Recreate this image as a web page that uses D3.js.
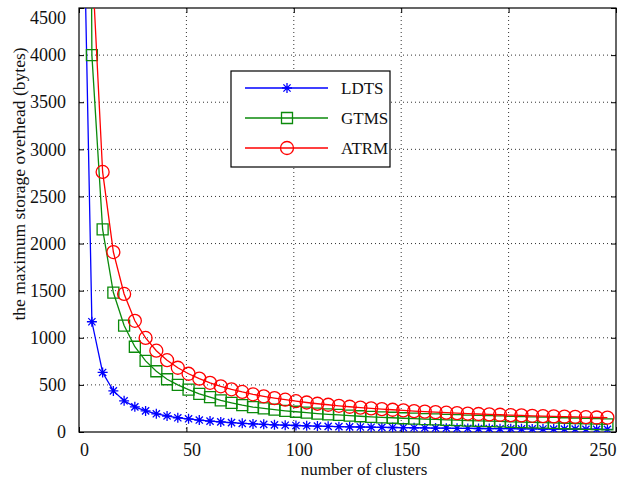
<!DOCTYPE html>
<html>
<head>
<meta charset="utf-8">
<script src="https://cdn.jsdelivr.net/npm/d3@7"></script>
<style>
  body { margin: 0; background: #fff; }
  svg text { font-family: "Liberation Serif", "Times New Roman", "DejaVu Serif", serif !important; }
  .grid line { stroke: #333; stroke-dasharray: 1,3; stroke-width: 1; }
</style>
</head>
<body>
<script>
const clusters = [1, 6, 11, 16, 21, 26, 31, 36, 41, 46, 51, 56, 61, 66, 71, 76, 81, 86, 91, 96,
    101, 106, 111, 116, 121, 126, 131, 136, 141, 146, 151, 156, 161, 166, 171, 176, 181, 186, 191, 196,
    201, 206, 211, 216, 221, 226, 231, 236, 241, 246];

const ldts = [6950, 1170, 632, 436, 331, 267, 224, 193, 170, 151, 140, 127, 116, 107, 99, 92, 86, 81, 76, 72,
    69, 66, 63, 60, 57, 55, 53, 51, 49, 48, 46, 45, 43, 42, 41, 39, 38, 37, 36, 35,
    35, 34, 33, 32, 31, 31, 30, 29, 29, 28];

const gtms = [24000, 4000, 2150, 1480, 1130, 905, 755, 645, 560, 500, 450, 405, 370, 335, 310, 285, 265, 250, 237, 225,
    215, 205, 196, 188, 181, 174, 167, 161, 156, 151, 146, 141, 137, 133, 129, 125, 121, 118, 115, 112,
    108, 105, 102, 99, 96, 93, 90, 87, 84, 81];

const atrm = [30000, 5030, 2760, 1910, 1465, 1180, 998, 863, 762, 682, 618, 566, 522, 485, 453, 425, 400, 379, 360, 343,
    327, 313, 300, 289, 278, 268, 259, 251, 243, 236, 229, 222, 216, 211, 205, 200, 196, 191, 187, 183,
    179, 176, 172, 169, 166, 163, 160, 157, 154, 152];

const xTicks = [0, 50, 100, 150, 200, 250];
const yTicks = [0, 500, 1000, 1500, 2000, 2500, 3000, 3500, 4000, 4500];

const series = [
    {name: 'LDTS', values: ldts, color: '#0000ff', marker: 'star'},
    {name: 'GTMS', values: gtms, color: '#0b8a0b', marker: 'square'},
    {name: 'ATRM', values: atrm, color: '#ff0000', marker: 'circle'}
];

const W = 619, H = 479;
const margin = {top: 8, right: 3, bottom: 47, left: 79};
const width = W - margin.left - margin.right,
    height = H - margin.top - margin.bottom;

const svg = d3.select('body').append('svg')
    .attr('width', W)
    .attr('height', H);

const g = svg.append('g')
    .attr('transform', `translate(${margin.left}, ${margin.top})`);

const x = d3.scaleLinear().domain([0, 250]).range([0, width]);
const y = d3.scaleLinear().domain([0, 4500]).range([height, 0]);

g.append('clipPath').attr('id', 'plot')
    .append('rect').attr('width', width).attr('height', height);

// dotted grid
g.append('g').attr('class', 'grid')
    .selectAll('line')
    .data(xTicks.slice(1, -1))
    .enter().append('line')
    .attr('x1', d => x(d)).attr('x2', d => x(d))
    .attr('y1', 0).attr('y2', height);

g.append('g').attr('class', 'grid')
    .selectAll('line')
    .data(yTicks.slice(1, -1))
    .enter().append('line')
    .attr('y1', d => y(d)).attr('y2', d => y(d))
    .attr('x1', 0).attr('x2', width);

// axes, ticks pointing inward on all four sides
const fmt = d3.format('d');
const xAxis = g.append('g')
    .attr('transform', `translate(0, ${height})`)
    .call(d3.axisBottom(x).tickValues(xTicks).tickSizeInner(-5).tickSizeOuter(0).tickPadding(11).tickFormat(fmt));
const yAxis = g.append('g')
    .call(d3.axisLeft(y).tickValues(yTicks).tickSizeInner(-5).tickSizeOuter(0).tickPadding(13).tickFormat(fmt));
g.append('g')
    .call(d3.axisTop(x).tickValues(xTicks).tickSizeInner(-5).tickSizeOuter(0).tickFormat(''));
g.append('g')
    .attr('transform', `translate(${width}, 0)`)
    .call(d3.axisRight(y).tickValues(yTicks).tickSizeInner(-5).tickSizeOuter(0).tickFormat(''));

g.selectAll('.domain').remove();
g.selectAll('.tick line').attr('stroke', '#000');

xAxis.selectAll('text')
    .attr('font-size', 18).attr('fill', '#111')
    .attr('dx', 5);
xAxis.selectAll('.tick:last-of-type text')
    .attr('text-anchor', 'end').attr('dx', 0);
yAxis.selectAll('text')
    .attr('font-size', 18).attr('fill', '#111');
// top label sits a little below its tick, as in the original figure
yAxis.selectAll('.tick:last-of-type text')
    .attr('dy', '0.85em');

g.append('rect')
    .attr('width', width).attr('height', height)
    .attr('fill', 'none').attr('stroke', '#000').attr('stroke-width', 1.2);

// series
const line = d3.line()
    .x((d, i) => x(clusters[i]))
    .y(d => y(d));

const symbolFor = {
    star: d3.symbol().type({draw(ctx, s) {
        const r = 5;
        ctx.moveTo(-r, 0); ctx.lineTo(r, 0);
        ctx.moveTo(0, -r); ctx.lineTo(0, r);
        const q = r * 0.72;
        ctx.moveTo(-q, -q); ctx.lineTo(q, q);
        ctx.moveTo(-q, q); ctx.lineTo(q, -q);
    }}),
    square: d3.symbol().type({draw(ctx, s) { ctx.rect(-5.5, -5.5, 11, 11); }}),
    circle: d3.symbol().type({draw(ctx, s) { ctx.moveTo(6.5, 0); ctx.arc(0, 0, 6.5, 0, 2 * Math.PI); }})
};

const plot = g.append('g').attr('clip-path', 'url(#plot)');

series.forEach(s => {
    plot.append('path')
        .datum(s.values)
        .attr('fill', 'none')
        .attr('stroke', s.color)
        .attr('stroke-width', 1.3)
        .attr('d', line);
    plot.append('g')
        .selectAll('path')
        .data(s.values)
        .enter().append('path')
        .attr('transform', (d, i) => `translate(${x(clusters[i])}, ${y(d)})`)
        .attr('d', symbolFor[s.marker]())
        .attr('fill', 'none')
        .attr('stroke', s.color)
        .attr('stroke-width', 1.3);
});

// legend
const legend = svg.append('g').attr('transform', 'translate(231, 71)');
legend.append('rect')
    .attr('width', 159).attr('height', 96)
    .attr('fill', '#fff').attr('stroke', '#000').attr('stroke-width', 1.2);

const rows = legend.selectAll('g.row')
    .data(series)
    .enter().append('g')
    .attr('class', 'row')
    .attr('transform', (d, i) => `translate(0, ${17 + i * 30})`);
rows.append('line')
    .attr('x1', 14).attr('x2', 97)
    .attr('stroke', d => d.color).attr('stroke-width', 1.3);
rows.append('path')
    .attr('transform', 'translate(56, 0)')
    .attr('d', d => symbolFor[d.marker]())
    .attr('fill', 'none')
    .attr('stroke', d => d.color).attr('stroke-width', 1.3);
rows.append('text')
    .attr('x', 110).attr('y', 6)
    .attr('font-size', 17).attr('fill', '#111')
    .text(d => d.name);

// axis titles
svg.append('text')
    .attr('x', 364).attr('y', 475)
    .attr('text-anchor', 'middle')
    .attr('font-size', 17).attr('fill', '#111')
    .text('number of clusters');

svg.append('text')
    .attr('transform', 'translate(25, 184) rotate(-90)')
    .attr('text-anchor', 'middle')
    .attr('font-size', 17.5).attr('fill', '#111')
    .text('the maximum storage overhead (bytes)');
</script>
</body>
</html>
